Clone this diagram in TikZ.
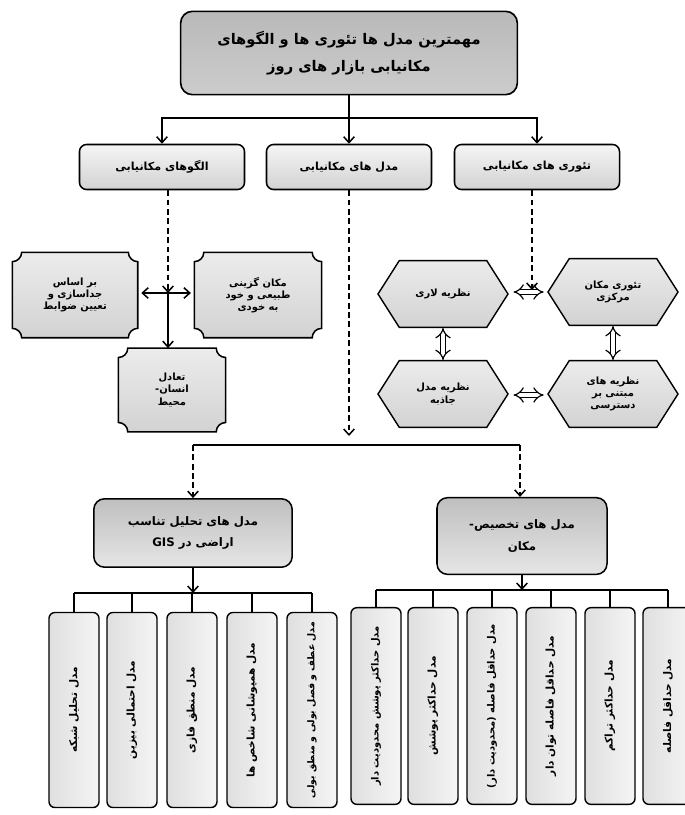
\documentclass[tikz,border=0pt]{standalone}
\usepackage{fontspec}
\usepackage{tikz}
\usetikzlibrary{arrows.meta,shapes.symbols,backgrounds}
\TeXXeTstate=1
\newfontfamily\farsi[Script=Arabic]{DejaVu Sans}
\newcommand\fa[1]{{\farsi\beginR #1\endR}}
\newcommand\vfa[1]{\rotatebox{90}{\fa{#1}}}
% concave-cornered frame drawn round a named node
\newcommand\plaqueframe[1]{%
  \draw[line width=1.3pt, top color=gray!15, bottom color=gray!35]
    ([xshift=8pt]#1.north west) -- ([xshift=-8pt]#1.north east) arc (180:270:8pt)
    -- ([yshift=8pt]#1.south east) arc (90:180:8pt)
    -- ([xshift=8pt]#1.south west) arc (0:90:8pt)
    -- ([yshift=-8pt]#1.north west) arc (270:360:8pt) -- cycle;}

\tikzset{
  titlebox/.style={draw, line width=1.4pt, rounded corners=10pt, top color=gray!55, middle color=gray!8, bottom color=gray!40,
    align=center, font=\fontsize{12.5}{23}\selectfont\bfseries, minimum width=10.1cm, minimum height=2.5cm},
  groupbox/.style={draw, line width=1.3pt, rounded corners=6pt, top color=gray!8, bottom color=gray!35,
    font=\fontsize{9.5}{11}\selectfont\bfseries, minimum width=4.95cm, minimum height=1.35cm},
  plaque/.style={align=center, font=\fontsize{8.5}{10.5}\selectfont\bfseries, minimum height=2.55cm},
  hexbox/.style={draw, line width=1.2pt, signal, signal to=east and west, signal pointer angle=115,
    top color=gray!15, bottom color=gray!35, align=center, font=\fontsize{8.5}{10.5}\selectfont\bfseries,
    minimum width=3.9cm, minimum height=2.0cm},
  modelbox/.style={draw, line width=1.3pt, rounded corners=9pt, top color=gray!50, middle color=white, bottom color=gray!20,
    align=center, font=\fontsize{10}{18}\selectfont\bfseries},
  leafbox/.style={draw, line width=1.2pt, rounded corners=5pt, left color=gray!25, right color=gray!8, inner sep=2pt,
    font=\fontsize{9}{11}\selectfont\bfseries, minimum width=1.5cm, minimum height=5.85cm},
  line/.style={line width=1.3pt},
  arr/.style={line width=1.3pt, -{Straight Barb[length=5pt,width=9pt]}},
  dasharr/.style={arr, dash pattern=on 5pt off 3pt},
  dblarr/.style={double, double distance=3.6pt, line width=1pt, {Implies}-{Implies}},
}

\begin{document}
\begin{tikzpicture}[x=0.03cm, y=-0.03cm]
\useasboundingbox (0,0) rectangle (685,815);

% Title
\node[titlebox] (title) at (349,53) {\fa{مهمترین مدل ها تئوری ها و الگوهای}\\\fa{مکانیابی بازار های روز}};

% Main groups
\node[groupbox] (patterns) at (162,167) {\fa{الگوهای مکانیابی}};
\node[groupbox] (models) at (349,167) {\fa{مدل های مکانیابی}};
\node[groupbox] (theories) at (537,167) {\fa{تئوری های مکانیابی}};

\coordinate (split) at (349,118);
\draw[line] (title.south) -- (split);
\draw[arr] (split) -| (patterns.north);
\draw[arr] (split) -- (models.north);
\draw[arr] (split) -| (theories.north);

% Location patterns
\coordinate (hub) at (168,293);
\node[plaque, minimum width=3.75cm] (zoning) at (75,295) {\fa{بر اساس}\\\fa{جداسازی و}\\\fa{تعیین ضوابط}};
\node[plaque, minimum width=3.8cm] (natural) at (258,295) {\fa{مکان گزینی}\\\fa{طبیعی و خود}\\\fa{به خودی}};
\node[plaque, minimum width=3.2cm, minimum height=2.5cm] (balance) at (172,390) {\fa{تعادل}\\\fa{انسان-}\\\fa{محیط}};
\begin{scope}[on background layer]
\plaqueframe{zoning}
\plaqueframe{natural}
\plaqueframe{balance}
\end{scope}
\draw[dasharr] (patterns.south -| hub) -- (hub);
\draw[line, {Straight Barb[length=5pt,width=9pt]}-{Straight Barb[length=5pt,width=9pt]}, shorten <=3pt, shorten >=3pt]
  (zoning.east |- hub) -- (natural.west |- hub);
\draw[arr] (hub) -- (hub |- balance.north);

% Location theories
\node[hexbox] (lowry) at (443,294) {\fa{نظریه لاری}};
\node[hexbox] (central) at (613,292) {\fa{تئوری مکان}\\\fa{مرکزی}};
\node[hexbox] (gravity) at (443,394) {\fa{نظریه مدل}\\\fa{جاذبه}};
\node[hexbox] (access) at (613,394) {\fa{نظریه های}\\\fa{مبتنی بر}\\\fa{دسترسی}};
\coordinate (thhub) at (532,290);
\draw[dasharr] (theories.south -| thhub) -- (thhub);
\draw[dblarr, shorten <=4pt, shorten >=3pt] (lowry.east |- central.west) -- (central.west);
\draw[dblarr] (lowry.south) -- (gravity.north);
\draw[dblarr] (central.south) -- (central.south |- access.north);
\draw[dblarr, shorten <=4pt, shorten >=3pt] (gravity.east |- 0,395) -- (access.west |- 0,395);

% Location models
\coordinate (fork) at (349,436);
\coordinate (gisbar) at (193,445);
\coordinate (allocbar) at (520,445);
\draw[dasharr] (models.south) -- (fork);
\draw[line] (gisbar) -- (allocbar);
\node[modelbox, minimum width=5.95cm, minimum height=2.05cm] (gis) at (193,533) {\fa{مدل های تحلیل تناسب}\\\fa{اراضی در \beginL GIS\endL}};
\node[modelbox, minimum width=5.1cm, minimum height=2.3cm] (alloc) at (522,536) {\fa{مدل های تخصیص-}\\\fa{مکان}};
\draw[dasharr] (gisbar) -- (gisbar |- gis.north);
\draw[dasharr] (allocbar) -- (allocbar |- alloc.north);

% Land suitability models
\node[leafbox] (g1) at (74,710) {\vfa{مدل تحلیل شبکه}};
\node[leafbox] (g2) at (132,710) {\vfa{مدل احتمالی بیزین}};
\node[leafbox] (g3) at (192,710) {\vfa{مدل منطق فازی}};
\node[leafbox] (g4) at (252,710) {\vfa{مدل همپوشانی شاخص ها}};
\node[leafbox, font=\fontsize{8}{10}\selectfont\bfseries] (g5) at (312,710) {\vfa{مدل عطف و فصل بولی و منطق بولی}};
\coordinate (gbar) at (193,593);
\draw[arr] (gis.south) -- (gis.south |- gbar);
\draw[line] (g1.north |- gbar) -- (g5.north |- gbar);
\foreach \n in {g1,g2,g3,g4,g5}
  \draw[line] (\n.north |- gbar) -- (\n.north);

% Location-allocation models
\node[leafbox, minimum height=5.9cm, font=\fontsize{8.5}{10}\selectfont\bfseries] (a1) at (376,706) {\vfa{مدل حداکثر پوشش محدودیت دار}};
\node[leafbox, minimum height=5.9cm] (a2) at (433,706) {\vfa{مدل حداکثر پوشش}};
\node[leafbox, minimum height=5.9cm, font=\fontsize{8.5}{10}\selectfont\bfseries] (a3) at (492,706) {\vfa{مدل حداقل فاصله (محدودیت دار)}};
\node[leafbox, minimum height=5.9cm] (a4) at (551,706) {\vfa{مدل حداقل فاصله توان دار}};
\node[leafbox, minimum height=5.9cm] (a5) at (610,706) {\vfa{مدل حداکثر تراکم}};
\node[leafbox, minimum height=5.9cm] (a6) at (668,706) {\vfa{مدل حداقل فاصله}};
\coordinate (abar) at (522,590);
\draw[arr] (alloc.south) -- (alloc.south |- abar);
\draw[line] (a1.north |- abar) -- (a6.north |- abar);
\foreach \n in {a1,a2,a3,a4,a5,a6}
  \draw[line] (\n.north |- abar) -- (\n.north);
\end{tikzpicture}
\end{document}
